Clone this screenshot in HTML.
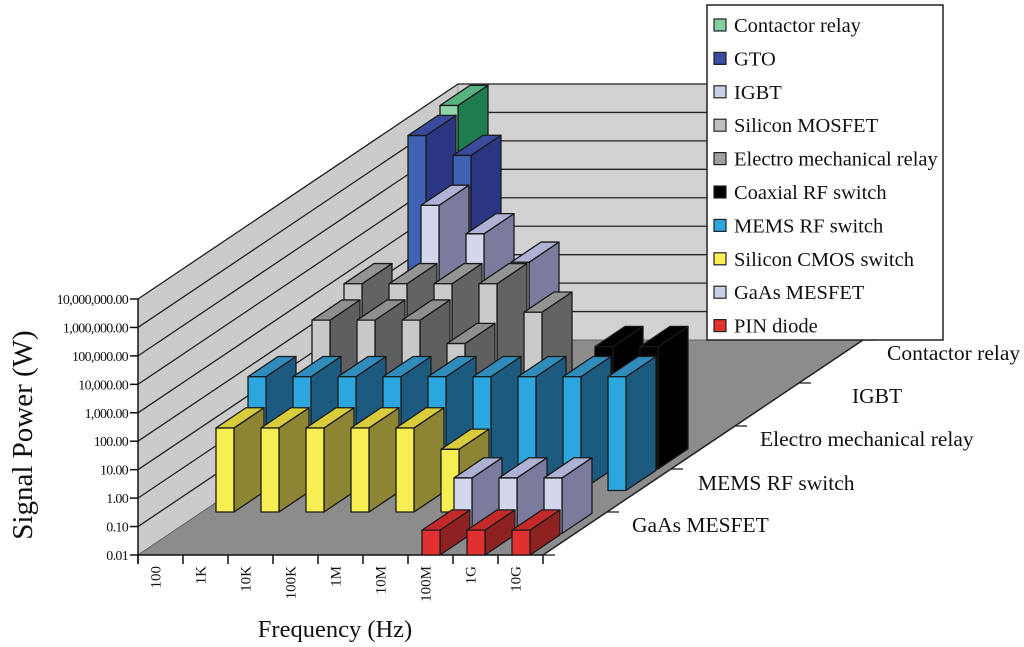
<!DOCTYPE html>
<html><head><meta charset="utf-8"><style>
html,body{margin:0;padding:0;background:#fff;}
svg{display:block;font-family:"Liberation Serif",serif;}
</style></head><body>
<svg id="chart" width="1024" height="647" viewBox="0 0 1024 647" xmlns="http://www.w3.org/2000/svg"></svg>
<script>
const categories = ["100","1K","10K","100K","1M","10M","100M","1G","10G"];
const seriesNames = ["PIN diode","GaAs MESFET","Silicon CMOS switch","MEMS RF switch","Coaxial RF switch","Electro mechanical relay","Silicon MOSFET","IGBT","GTO","Contactor relay"];
const pinDiode   = [null,null,null,null,null,null,0.075,0.075,0.075];
const gaasMesfet = [null,null,null,null,null,null,0.9,0.9,0.9];
const cmosSwitch = [9,9,9,9,9,1.6,null,null,null];
const memsSwitch = [100,100,100,100,100,100,100,100,100];
const coaxSwitch = [null,null,null,null,null,null,null,200,200];
const emRelay    = [300,300,300,45,null,null,null,null,null];
const siMosfet   = [1000,1000,1000,1000,100,null,null,null,null];
const igbt       = [null,1e5,1e4,1000,null,null,null,null,null];
const gto        = [5e6,1e6,null,null,null,null,null,null,null];
const contactor  = [1e7,null,null,null,null,null,null,null,null];
const yTicks = [0.01,0.1,1,10,100,1000,10000,100000,1000000,10000000];
const yTickLabels = ["0.01","0.10","1.00","10.00","100.00","1,000.00","10,000.00","100,000.00","1,000,000.00","10,000,000.00"];

const allSeries = [pinDiode,gaasMesfet,cmosSwitch,memsSwitch,coaxSwitch,emRelay,siMosfet,igbt,gto,contactor];
const colors = [
 {f:"#e23030",s:"#8e2222",t:"#c42a2a"},
 {f:"#d2d7ec",s:"#7b7b9e",t:"#aeb2d4"},
 {f:"#f6ee52",s:"#8d8434",t:"#d9cd3c"},
 {f:"#2ba6de",s:"#1d5a80",t:"#2f8cbb"},
 {f:"#000",s:"#000",t:"#000"},
 {f:"#c9c9c9",s:"#5e605f",t:"#8e908f"},
 {f:"#cacaca",s:"#626463",t:"#939594"},
 {f:"#d2d7ec",s:"#7b7b9e",t:"#aeb2d4"},
 {f:"#4062b4",s:"#2b3682",t:"#3a4a9c"},
 {f:"#90d6aa",s:"#1f7b50",t:"#56b27f"}
];
const legendColors = ["#e23030","#c8d0e8","#f6ee52","#2ba6de","#000","#a0a0a0","#c0c0c0","#c8d0e8","#3a4da0","#7fcf9f"];

const NS="http://www.w3.org/2000/svg";
const svg=document.getElementById('chart');
function mk(tag,attrs,parent){const e=document.createElementNS(NS,tag);for(const k in attrs)e.setAttribute(k,attrs[k]);(parent||svg).appendChild(e);return e;}

const X0=138, Y0=555, SLOT=45, DX=32, DY=-21.5, DEC=(555-299)/9, NROW=10;
const FW=18, SX=30, SY=-20.2;
function yScale(v){return DEC*Math.log10(v/0.01);}
function xSlot(i){return X0+SLOT*i;}

const lw=mk('polygon',{points:`${X0},${Y0} ${X0},${Y0-yScale(1e7)} ${X0+DX*NROW},${Y0-yScale(1e7)+DY*NROW} ${X0+DX*NROW},${Y0+DY*NROW}`,fill:"#cbcbcb",stroke:"#999","stroke-width":1});


const bx=X0+DX*NROW, by=Y0+DY*NROW, bxe=543+DX*NROW;
const bw=mk('polygon',{points:`${bx},${by} ${bx},${by-yScale(1e7)} ${bxe},${by-yScale(1e7)} ${bxe},${by}`,fill:"#d2d2d2",stroke:"#999","stroke-width":1});


const fl=mk('polygon',{points:`${X0},${Y0} 543,${Y0} ${bxe},${by} ${bx},${by}`,fill:"#8c8c8c",stroke:"#666","stroke-width":1});



const yAxis=mk('g',{});


yTicks.forEach((v,k)=>{
  const y=Y0-yScale(v);
  if(k>0){
    mk('line',{x1:X0,y1:y,x2:bx,y2:y+DY*NROW,stroke:"#222","stroke-width":1.3},yAxis);
    mk('line',{x1:bx,y1:y+DY*NROW,x2:bxe,y2:y+DY*NROW,stroke:"#222","stroke-width":1.3},yAxis);
  }
  mk('line',{x1:X0-8,y1:y,x2:X0,y2:y,stroke:"#111","stroke-width":1.5},yAxis);
  const t=mk('text',{x:X0-10,y:y+5,"text-anchor":"end","font-size":"14","letter-spacing":"-0.7",fill:"#111"},yAxis);
  t.textContent=yTickLabels[k];
  
  
});
mk('line',{x1:X0,y1:Y0+8,x2:X0,y2:Y0-yScale(1e7),stroke:"#111","stroke-width":1.5},yAxis);

const xAxis=mk('g',{});


mk('line',{x1:X0,y1:Y0,x2:543,y2:Y0,stroke:"#111","stroke-width":1.5},xAxis);
for(let i=0;i<=categories.length;i++){
  mk('line',{x1:xSlot(i),y1:Y0,x2:xSlot(i),y2:Y0+9,stroke:"#111","stroke-width":1.5},xAxis);
}
categories.forEach((c,i)=>{
  const cx=xSlot(i)+SLOT/2-5, ty=566;
  const t=mk('text',{x:cx,y:ty,transform:`rotate(-90 ${cx} ${ty})`,"text-anchor":"end","font-size":"15",fill:"#111",dy:"5"},xAxis);
  t.textContent=c;
  
  
});
mk('line',{x1:543,y1:Y0,x2:bxe,y2:by,stroke:"#222","stroke-width":1.5},xAxis);
for(let r=0;r<=NROW;r+=2){
  const ex=543+DX*r, ey=Y0+DY*r;
  mk('line',{x1:ex,y1:ey,x2:ex+12,y2:ey,stroke:"#222","stroke-width":1.3},xAxis);
}

allSeries.slice().reverse().forEach((vals,ri)=>{
  const r=NROW-1-ri;
  const g=mk('g',{});
  
  
  const c=colors[r];
  vals.forEach((v,i)=>{
    if(v==null) return;
    const x=xSlot(i)+14+DX*r, yb=Y0+DY*r, h=yScale(v), yt=yb-h;
    const bg=mk('g',{stroke:"#1a1a1a","stroke-width":1.3,"stroke-linejoin":"round"},g);
    
    
    mk('polygon',{points:`${x+FW},${yb} ${x+FW},${yt} ${x+FW+SX},${yt+SY} ${x+FW+SX},${yb+SY}`,fill:c.s},bg);
    mk('polygon',{points:`${x},${yt} ${x+FW},${yt} ${x+FW+SX},${yt+SY} ${x+SX},${yt+SY}`,fill:c.t},bg);
    mk('rect',{x:x,y:yt,width:FW,height:h,fill:c.f},bg);
  });
});

const depthLabels=[[1,632,532],[3,698,490],[5,760,446],[7,852,403],[9,887,360]];
depthLabels.forEach(([r,x,y])=>{
  const t=mk('text',{x:x,y:y,"font-size":"21.5",fill:"#111"});
  t.textContent=seriesNames[r];
  
  
});

const yt=mk('text',{x:0,y:0,transform:"translate(32 435) rotate(-90)","text-anchor":"middle","font-size":"29",fill:"#111"});
yt.textContent="Signal Power (W)";


const xt=mk('text',{x:335,y:637,"text-anchor":"middle","font-size":"24.5",fill:"#111"});
xt.textContent="Frequency (Hz)";



const lg=mk('g',{});


mk('rect',{x:707,y:5,width:236,height:335,fill:"#fff",stroke:"#222","stroke-width":1.5},lg);
for(let k=0;k<NROW;k++){
  const r=NROW-1-k, y=25+33.4*k;
  const e=mk('g',{},lg);
  
  
  mk('rect',{x:714,y:y-6,width:12,height:12,fill:legendColors[r],stroke:"#222","stroke-width":1.2},e);
  const t=mk('text',{x:734,y:y+7,"font-size":"20.5",fill:"#111"},e);
  t.textContent=seriesNames[r];
}
</script>
</body></html>
